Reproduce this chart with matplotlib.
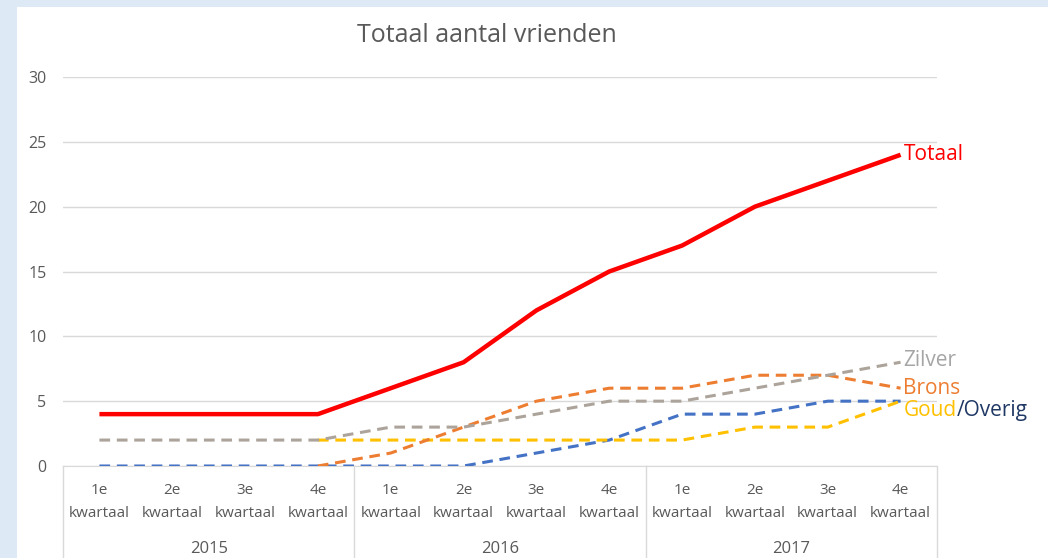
import numpy as np
import matplotlib
matplotlib.use("Agg")
import matplotlib.pyplot as plt
from matplotlib.patches import Rectangle
from matplotlib.transforms import blended_transform_factory

plt.rcParams['font.family'] = ['Open Sans', 'DejaVu Sans']

quarters = ["1e\nkwartaal", "2e\nkwartaal", "3e\nkwartaal", "4e\nkwartaal"] * 3
years = ["2015", "2016", "2017"]
nan = np.nan
totaal = [4, 4, 4, 4, 6, 8, 12, 15, 17, 20, 22, 24]
zilver = [2, 2, 2, 2, 3, 3, 4, 5, 5, 6, 7, 8]
brons = [nan, nan, nan, 0, 1, 3, 5, 6, 6, 7, 7, 6]
goud = [nan, nan, nan, 2, 2, 2, 2, 2, 2, 3, 3, 5]
overig = [0, 0, 0, 0, 0, 0, 1, 2, 4, 4, 5, 5]
title = "Totaal aantal vrienden"

W, H = 1048, 558
fig = plt.figure(figsize=(W / 100, H / 100), dpi=100)
fig.patch.set_facecolor('#dde9f5')
fig.patches.append(Rectangle((17 / W, 0), 1 - 17 / W, 1 - 7 / H, transform=fig.transFigure,
                             facecolor='white', edgecolor='none', zorder=-5))

ax = fig.add_axes([63 / W, 1 - 466 / H, (937 - 63) / W, (466 - 77) / H])
ax.set_zorder(2)
ax.set_facecolor('none')
x = np.arange(len(totaal))
ax.set_xlim(-0.5, 11.5)
ax.set_ylim(0, 30)
ax.set_yticks(range(0, 31, 5))
ax.tick_params(axis='y', length=0, labelsize=11.5, labelcolor='#595959', pad=12)
ax.set_xticks([])
for s in ['top', 'right', 'left']:
    ax.spines[s].set_visible(False)
ax.spines['bottom'].set_color('#d9d9d9')
ax.grid(axis='y', color='#d9d9d9', lw=1)
ax.set_axisbelow(True)

dash = dict(lw=2.2, dashes=(3.5, 2.2))
ax.plot(x, overig, color='#4472c4', **dash, zorder=3)
ax.plot(x, goud, color='#ffc000', **dash, zorder=3)
ax.plot(x, brons, color='#ed7d31', **dash, zorder=4)
ax.plot(x, zilver, color='#aca49b', **dash, zorder=4)
ax.plot(x, totaal, color='#ff0000', lw=3.2, zorder=5, solid_capstyle='butt')

lab = dict(fontsize=15, va='center', ha='left')
lx = 11.04
ax.text(lx, totaal[-1], "Totaal", color='#ff0000', **lab)
ax.text(lx, zilver[-1] + 0.15, "Zilver", color='#a5a5a5', **lab)
ax.text(lx, brons[-1], "Brons", color='#ed7d31', **lab)
t = ax.text(lx, goud[-1] - 0.7, "Goud", color='#ffc000', **lab)
fig.canvas.draw()
bb = t.get_window_extent()
inv = ax.transData.inverted()
xe = inv.transform((bb.x1, bb.y0))[0]
ax.text(xe, goud[-1] - 0.7, "/Overig", color='#1f3864', **lab)

tr = blended_transform_factory(ax.transData, ax.transAxes)
h_ax = (466 - 77)
for i, q in enumerate(quarters):
    ax.text(i, -(502 - 466) / h_ax, q, transform=tr, ha='center', va='center',
            fontsize=11, color='#595959', linespacing=1.65)
for j, yr in enumerate(years):
    ax.text(4 * j + 1.5, -(549 - 466) / h_ax, yr, transform=tr, ha='center', va='center',
            fontsize=12, color='#595959')
for b in [-0.5, 3.5, 7.5, 11.5]:
    ax.plot([b, b], [0, -0.3], transform=tr, color='#d9d9d9', lw=1, clip_on=False)

fig.text(487 / W, 1 - 36 / H, title, ha='center', va='center', fontsize=18, color='#595959')

fig.savefig('out.png', dpi=100, facecolor=fig.get_facecolor())
